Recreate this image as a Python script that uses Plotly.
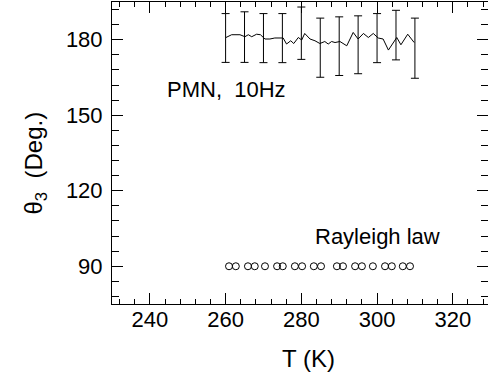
import plotly.graph_objects as go

# Phase line (PMN, 10 Hz)
line_T = [260.1, 261.6, 263.8, 265.1, 266.0, 266.9, 268.2, 269.2, 270.4, 271.7,
          273.0, 275.2, 276.1, 277.2, 278.0, 279.2, 280.1, 280.9, 282.3, 283.6,
          284.9, 286.2, 287.1, 288.0, 288.9, 290.2, 292.0, 293.7, 295.0, 296.4,
          297.7, 299.0, 300.3, 301.6, 303.0, 304.3, 305.2, 306.3, 308.1, 309.8]
line_theta = [180.9, 182.0, 182.0, 181.2, 182.0, 181.2, 182.2, 182.0, 180.3, 180.3,
              180.7, 180.7, 178.3, 179.6, 178.5, 180.9, 179.9, 182.5, 180.3, 179.6,
              178.5, 179.3, 178.3, 179.3, 178.9, 179.3, 177.6, 182.9, 180.3, 182.5,
              180.9, 182.5, 180.7, 180.3, 175.9, 178.9, 180.9, 178.0, 182.2, 178.9]

# Error bars
bar_T = [260, 265, 270, 275, 280, 285, 290, 295, 300, 305, 310]
bar_center = [180.7, 181.05, 180.65, 180.65, 182.6, 176.85, 177.45, 178.0, 180.65, 181.85, 176.65]
bar_err = [9.7, 10.05, 9.75, 9.75, 10.4, 11.75, 11.65, 11.5, 9.75, 9.85, 11.95]

# Rayleigh law points
ray_T = [260.9, 262.7, 265.9, 267.7, 270.4, 273.6, 275.1, 278.3, 280.2, 283.3,
         285.2, 289.4, 291.0, 294.2, 296.0, 298.9, 302.1, 303.9, 306.8, 308.7]
ray_theta = [90] * len(ray_T)

FONT = "Liberation Sans, Arial, Helvetica, sans-serif"

fig = go.Figure()
fig.add_trace(go.Scatter(x=bar_T, y=bar_center, mode="markers",
                         marker=dict(size=1, color="rgba(0,0,0,0)"),
                         error_y=dict(type="data", array=bar_err, visible=True,
                                      color="black", thickness=1, width=4),
                         showlegend=False))
fig.add_trace(go.Scatter(x=line_T, y=line_theta, mode="lines",
                         line=dict(color="black", width=1), showlegend=False))
fig.add_trace(go.Scatter(x=ray_T, y=ray_theta, mode="markers",
                         marker=dict(symbol="circle-open", size=7, color="black",
                                     line=dict(width=1, color="black")),
                         showlegend=False))

fig.add_annotation(x=244, y=160.3, text="PMN,  10Hz", showarrow=False,
                   xanchor="left", yanchor="middle", font=dict(size=22, color="black", family=FONT))
fig.add_annotation(x=283.1, y=101.8, text="Rayleigh law", showarrow=False,
                   xanchor="left", yanchor="middle", font=dict(size=22, color="black", family=FONT))
fig.add_annotation(xref="paper", yref="paper", x=(308 - 112) / 376, y=-54 / 302,
                   text="T (K)", showarrow=False, xanchor="center", yanchor="middle",
                   font=dict(size=24, color="black", family=FONT))
fig.add_annotation(xref="paper", yref="paper", x=-(112 - 36) / 376, y=0.465,
                   text="θ<sub>3</sub>  (Deg.)", textangle=-90, showarrow=False,
                   xanchor="center", yanchor="middle",
                   font=dict(size=24, color="black", family=FONT))

fig.update_layout(
    width=488, height=379,
    margin=dict(l=112, r=0, t=2, b=75),
    paper_bgcolor="white", plot_bgcolor="white",
    font=dict(family=FONT, color="black", size=22),
    xaxis=dict(range=[230, 329.3], tickvals=[240, 260, 280, 300, 320],
               showgrid=False, zeroline=False, showline=True, linecolor="black",
               linewidth=1, mirror="allticks", ticks="inside", ticklen=11,
               tickcolor="black", tickwidth=1, ticklabelstandoff=-4,
               minor=dict(dtick=4, ticks="inside", ticklen=5, tickcolor="black",
                          tickwidth=1, showgrid=False),
               tickfont=dict(size=22, family=FONT)),
    yaxis=dict(range=[75, 195], tickvals=[90, 120, 150, 180],
               showgrid=False, zeroline=False, showline=True, linecolor="black",
               linewidth=1, mirror="allticks", ticks="inside", ticklen=11,
               tickcolor="black", tickwidth=1, ticklabelstandoff=4,
               minor=dict(dtick=6, ticks="inside", ticklen=7, tickcolor="black",
                          tickwidth=1, showgrid=False),
               tickfont=dict(size=22, family=FONT)),
)

fig.write_html("out.html", config={"displayModeBar": False},
               post_script="document.body.style.margin='0';document.body.style.overflow='hidden';")
